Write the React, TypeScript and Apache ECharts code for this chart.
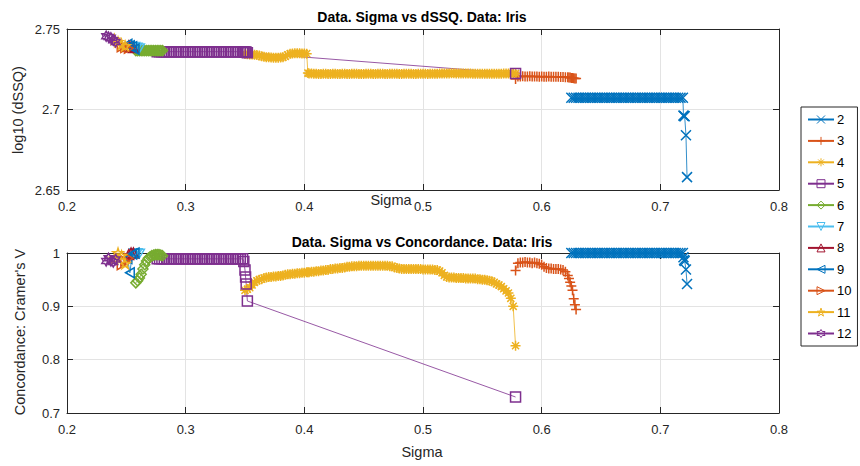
import React, { useEffect, useRef } from "react";
import * as echarts from "echarts";

// ---------- data ----------
const legendNames = ["2", "3", "4", "5", "6", "7", "8", "9", "10", "11", "12"];
const xTicks = { min: 0.2, max: 0.8, interval: 0.1 };
const topTicks = { min: 2.65, max: 2.75, interval: 0.05 };
const botTicks = { min: 0.7, max: 1, interval: 0.1 };

const sigma2 = [
  0.625, 0.627, 0.629, 0.631, 0.633, 0.635, 0.637, 0.639, 0.641, 0.643,
  0.645, 0.647, 0.649, 0.651, 0.653, 0.655, 0.657, 0.659, 0.661, 0.663,
  0.665, 0.667, 0.669, 0.671, 0.673, 0.675, 0.677, 0.679, 0.681, 0.683,
  0.685, 0.687, 0.689, 0.691, 0.693, 0.695, 0.697, 0.699, 0.701, 0.703,
  0.705, 0.707, 0.709, 0.711, 0.713, 0.715, 0.717, 0.719,
  0.7195, 0.72, 0.7205, 0.7216, 0.7225,
];
const dssq2 = [
  2.7073, 2.7073, 2.7073, 2.7073, 2.7073, 2.7073, 2.7073, 2.7073, 2.7073, 2.7073,
  2.7073, 2.7073, 2.7073, 2.7073, 2.7073, 2.7073, 2.7073, 2.7073, 2.7073, 2.7073,
  2.7073, 2.7073, 2.7073, 2.7073, 2.7073, 2.7073, 2.7073, 2.7073, 2.7073, 2.7073,
  2.7073, 2.7073, 2.7073, 2.7073, 2.7073, 2.7073, 2.7073, 2.7073, 2.7073, 2.7073,
  2.7073, 2.7073, 2.7073, 2.7073, 2.7073, 2.7073, 2.7073, 2.7073,
  2.6962, 2.696, 2.6958, 2.684, 2.658,
];
const conc2 = [
  1, 1, 1, 1, 1, 1, 1, 1, 1, 1,
  1, 1, 1, 1, 1, 1, 1, 1, 1, 1,
  1, 1, 1, 1, 1, 1, 1, 1, 1, 1,
  1, 1, 1, 1, 1, 1, 1, 1, 1, 1,
  1, 1, 1, 1, 1, 1, 1, 1,
  0.992, 0.987, 0.985, 0.969, 0.942,
];

const sigma3 = [
  0.578,
  0.58, 0.582, 0.584, 0.586, 0.588, 0.59, 0.592, 0.594, 0.596, 0.598,
  0.6, 0.602, 0.604, 0.606, 0.608, 0.61, 0.612, 0.614, 0.616, 0.618,
  0.62,
  0.622, 0.623, 0.624, 0.625, 0.626, 0.627, 0.628, 0.629,
];
const dssq3 = [
  2.719,
  2.7205, 2.7205, 2.7206, 2.7205, 2.7205, 2.7206, 2.7205, 2.7205, 2.7205, 2.7204,
  2.7205, 2.7204, 2.7204, 2.7205, 2.7204, 2.7204, 2.7203, 2.7203, 2.7202, 2.7202,
  2.7201,
  2.72, 2.7199, 2.7198, 2.7196, 2.7195, 2.7194, 2.7193, 2.7192,
];
const conc3 = [
  0.967,
  0.981, 0.982, 0.982, 0.983, 0.982, 0.982, 0.981, 0.982, 0.981, 0.98,
  0.978, 0.974, 0.972, 0.971, 0.971, 0.97, 0.97, 0.97, 0.969, 0.968,
  0.965,
  0.958, 0.952, 0.945, 0.938, 0.93, 0.914, 0.903, 0.894,
];

const sigma4 = [
  0.35, 0.352, 0.354, 0.356, 0.358, 0.36, 0.362, 0.364, 0.366, 0.368,
  0.37, 0.372, 0.374, 0.376, 0.378, 0.38, 0.382, 0.384, 0.386, 0.388,
  0.39, 0.392, 0.394, 0.396, 0.398, 0.4, 0.402,
  0.403,
  0.404, 0.406, 0.408, 0.41, 0.412, 0.414, 0.416, 0.418, 0.42, 0.422,
  0.424, 0.426, 0.428, 0.43, 0.432, 0.434, 0.436, 0.438, 0.44, 0.442,
  0.444, 0.446, 0.448, 0.45, 0.452, 0.454, 0.456, 0.458, 0.46, 0.462,
  0.464, 0.466, 0.468, 0.47, 0.472, 0.474, 0.476, 0.478, 0.48, 0.482,
  0.484, 0.486, 0.488, 0.49, 0.492, 0.494, 0.496, 0.498, 0.5, 0.502,
  0.504, 0.506, 0.508, 0.51, 0.512, 0.514, 0.516, 0.518, 0.52, 0.522,
  0.524, 0.526, 0.528, 0.53, 0.532, 0.534, 0.536, 0.538, 0.54, 0.542,
  0.544, 0.546, 0.548, 0.55, 0.552, 0.554, 0.556, 0.558, 0.56, 0.562,
  0.564, 0.566, 0.568, 0.57, 0.572, 0.574, 0.576,
  0.578,
];
const dssq4 = [
  2.7344, 2.7343, 2.7342, 2.7341, 2.734, 2.7338, 2.7335, 2.733, 2.7327, 2.7325,
  2.7324, 2.7323, 2.7322, 2.7322, 2.7322, 2.7323, 2.7325, 2.733, 2.734, 2.7346,
  2.7348, 2.7349, 2.7349, 2.7349, 2.7348, 2.7348, 2.7347,
  2.7226,
  2.7224, 2.7223, 2.7222, 2.7222, 2.7221, 2.7221, 2.7222, 2.7222, 2.7221, 2.7221,
  2.7222, 2.7222, 2.7221, 2.7221, 2.7222, 2.7222, 2.7221, 2.7221, 2.7222, 2.7222,
  2.7222, 2.7221, 2.7221, 2.7221, 2.7222, 2.7222, 2.7222, 2.7221, 2.7221, 2.7222,
  2.7222, 2.7222, 2.7221, 2.7221, 2.7222, 2.7222, 2.7222, 2.7222, 2.7221, 2.7221,
  2.7222, 2.7222, 2.7222, 2.7222, 2.7221, 2.7221, 2.7222, 2.7222, 2.7222, 2.7222,
  2.7221, 2.7222, 2.7222, 2.7222, 2.7222, 2.7223, 2.7223, 2.7224, 2.7224, 2.7224,
  2.7225, 2.7225, 2.7224, 2.7224, 2.7224, 2.7224, 2.7223, 2.7223, 2.7223, 2.7222,
  2.7222, 2.7222, 2.7222, 2.7222, 2.7222, 2.7222, 2.7222, 2.7222, 2.7222, 2.7222,
  2.7222, 2.7222, 2.7223, 2.7223, 2.7223, 2.7223, 2.7223,
  2.7224,
];
const conc4 = [
  0.93, 0.932, 0.935, 0.94, 0.945, 0.948, 0.95, 0.951, 0.953, 0.954,
  0.955, 0.955, 0.956, 0.956, 0.957, 0.957, 0.958, 0.959, 0.96, 0.96,
  0.961, 0.961, 0.962, 0.962, 0.963, 0.963, 0.964,
  0.964,
  0.964, 0.965, 0.965, 0.966, 0.966, 0.967, 0.967, 0.968, 0.968, 0.97,
  0.97, 0.971, 0.971, 0.972, 0.972, 0.973, 0.974, 0.974, 0.975, 0.975,
  0.975, 0.976, 0.976, 0.976, 0.976, 0.976, 0.976, 0.976, 0.976, 0.976,
  0.976, 0.976, 0.976, 0.976, 0.975, 0.975, 0.973, 0.972, 0.971, 0.97,
  0.97, 0.97, 0.97, 0.97, 0.97, 0.97, 0.97, 0.97, 0.969, 0.969,
  0.969, 0.969, 0.969, 0.968, 0.968, 0.966, 0.963, 0.958, 0.955, 0.954,
  0.954, 0.954, 0.953, 0.953, 0.953, 0.953, 0.952, 0.952, 0.952, 0.952,
  0.952, 0.951, 0.951, 0.95, 0.95, 0.949, 0.948, 0.947, 0.945, 0.942,
  0.94, 0.937, 0.933, 0.929, 0.925, 0.915, 0.9,
  0.826,
];

const sigma5 = [
  0.276, 0.278, 0.28, 0.282, 0.284, 0.286, 0.288, 0.29, 0.292, 0.294,
  0.296, 0.298, 0.3, 0.302, 0.304, 0.306, 0.308, 0.31, 0.312, 0.314,
  0.316, 0.318, 0.32, 0.322, 0.324, 0.326, 0.328, 0.33, 0.332, 0.334,
  0.336, 0.338, 0.34, 0.342, 0.344, 0.346, 0.348,
  0.349, 0.35, 0.3505, 0.351, 0.352, 0.578,
];
const dssq5 = [
  2.7359, 2.7359, 2.7359, 2.7359, 2.7359, 2.7359, 2.7359, 2.7359, 2.7359, 2.7359,
  2.7359, 2.7359, 2.7359, 2.7359, 2.7359, 2.7359, 2.7359, 2.7359, 2.7359, 2.7359,
  2.7359, 2.7359, 2.7359, 2.7359, 2.7359, 2.7359, 2.7359, 2.7359, 2.7359, 2.7359,
  2.7359, 2.7359, 2.7359, 2.7359, 2.7359, 2.7359, 2.7359,
  2.7358, 2.7357, 2.7356, 2.7355, 2.7353, 2.7224,
];
const conc5 = [
  0.989, 0.989, 0.989, 0.989, 0.989, 0.989, 0.989, 0.989, 0.989, 0.989,
  0.989, 0.989, 0.989, 0.989, 0.989, 0.989, 0.989, 0.989, 0.989, 0.989,
  0.989, 0.989, 0.989, 0.989, 0.989, 0.989, 0.989, 0.989, 0.989, 0.989,
  0.989, 0.989, 0.989, 0.989, 0.989, 0.989, 0.989,
  0.984, 0.968, 0.955, 0.942, 0.91, 0.73,
];

const sigma6 = [0.258, 0.2595, 0.261, 0.2625, 0.264, 0.2655, 0.267, 0.2685, 0.27, 0.2715, 0.273, 0.2745, 0.276, 0.2775, 0.279, 0.2805];
const dssq6 = [2.7366, 2.7366, 2.7366, 2.7366, 2.7366, 2.7366, 2.7366, 2.7366, 2.7366, 2.7366, 2.7366, 2.7366, 2.7366, 2.7366, 2.7366, 2.7366];
const conc6 = [0.944, 0.948, 0.953, 0.96, 0.97, 0.978, 0.985, 0.99, 0.993, 0.995, 0.996, 0.997, 0.997, 0.997, 0.996, 0.995];

const sigma7 = [0.257, 0.259, 0.261];
const dssq7 = [2.739, 2.7385, 2.738];
const conc7 = [1, 1, 0.999];

const sigma8 = [0.252, 0.254, 0.256];
const dssq8 = [2.7395, 2.739, 2.7385];
const conc8 = [0.997, 1, 1];

const sigma9 = [0.251, 0.253, 0.255, 0.257];
const dssq9 = [2.7405, 2.7395, 2.739, 2.7375];
const conc9 = [0.99, 0.963, 0.998, 1];

const sigma10 = [0.246, 0.249, 0.252];
const dssq10 = [2.739, 2.7385, 2.738];
const conc10 = [0.978, 0.985, 0.99];

const sigma11 = [0.24, 0.243, 0.246, 0.249];
const dssq11 = [2.7435, 2.742, 2.7405, 2.7395];
const conc11 = [0.99, 1, 0.995, 0.98];

const sigma12 = [0.233, 0.235, 0.237, 0.239, 0.241];
const dssq12 = [2.7455, 2.745, 2.7445, 2.743, 2.742];
const conc12 = [0.985, 0.99, 0.985, 0.983, 0.988];

// ---------- styling ----------
const FONT = '"Liberation Sans", Arial, Helvetica, sans-serif';
const C = {
  blue: "#0072BD",
  orange: "#D95319",
  yellow: "#EDB120",
  purple: "#7E2F8E",
  green: "#77AC30",
  lblue: "#4DBEEE",
  dred: "#A2142F",
};
const SYM = {
  x: "path://M0,0L10,10M10,0L0,10",
  plus: "path://M5,0L5,10M0,5L10,5",
  star: "path://M5,0L5,10M0,5L10,5M1.46,1.46L8.54,8.54M8.54,1.46L1.46,8.54",
  square: "rect",
  diamond: "diamond",
  tdown: "path://M0,0L10,0L5,8.66Z",
  tup: "triangle",
  tleft: "path://M0,5L8.66,0L8.66,10Z",
  tright: "path://M0,0L8.66,5L0,10Z",
  pent: "path://M50,0L61.8,36.2L100,36.2L69.1,58.8L80.9,95.1L50,72.7L19.1,95.1L30.9,58.8L0,36.2L38.2,36.2Z",
  hex: "path://M50,0L64.4,25L93.3,25L78.9,50L93.3,75L64.4,75L50,100L35.6,75L6.7,75L21.1,50L6.7,25L35.6,25Z",
};

const SERIES = [
  { color: C.blue, symbol: SYM.x, sigma: sigma2, top: dssq2, bot: conc2 },
  { color: C.orange, symbol: SYM.plus, sigma: sigma3, top: dssq3, bot: conc3 },
  { color: C.yellow, symbol: SYM.star, sigma: sigma4, top: dssq4, bot: conc4 },
  { color: C.purple, symbol: SYM.square, sigma: sigma5, top: dssq5, bot: conc5 },
  { color: C.green, symbol: SYM.diamond, sigma: sigma6, top: dssq6, bot: conc6 },
  { color: C.lblue, symbol: SYM.tdown, sigma: sigma7, top: dssq7, bot: conc7 },
  { color: C.dred, symbol: SYM.tup, sigma: sigma8, top: dssq8, bot: conc8 },
  { color: C.blue, symbol: SYM.tleft, sigma: sigma9, top: dssq9, bot: conc9 },
  { color: C.orange, symbol: SYM.tright, sigma: sigma10, top: dssq10, bot: conc10 },
  { color: C.yellow, symbol: SYM.pent, sigma: sigma11, top: dssq11, bot: conc11 },
  { color: C.purple, symbol: SYM.hex, sigma: sigma12, top: dssq12, bot: conc12 },
];

const AX = "#262626";
const GRIDC = "#e3e3e3";

function xAxes(g: number) {
  return [
    {
      gridIndex: g,
      type: "value",
      ...xTicks,
      position: "bottom",
      axisLine: { show: true, onZero: false, lineStyle: { color: AX, width: 1 } },
      axisTick: { show: true, inside: true, length: 6, lineStyle: { color: AX } },
      axisLabel: { color: AX, fontSize: 13, margin: 10, fontFamily: FONT, showMinLabel: true, showMaxLabel: true },
      splitLine: { show: true, lineStyle: { color: GRIDC, width: 1 } },
    },
    {
      gridIndex: g,
      type: "value",
      ...xTicks,
      position: "top",
      axisLine: { show: true, onZero: false, lineStyle: { color: AX, width: 1 } },
      axisTick: { show: true, inside: true, length: 6, lineStyle: { color: AX } },
      axisLabel: { show: false },
      splitLine: { show: false },
    },
  ];
}
function yAxes(g: number, t: { min: number; max: number; interval: number }) {
  return [
    {
      gridIndex: g,
      type: "value",
      ...t,
      position: "left",
      axisLine: { show: true, onZero: false, lineStyle: { color: AX, width: 1 } },
      axisTick: { show: true, inside: true, length: 6, lineStyle: { color: AX } },
      axisLabel: { color: AX, fontSize: 13, margin: 7, fontFamily: FONT, showMinLabel: true, showMaxLabel: true },
      splitLine: { show: true, lineStyle: { color: GRIDC, width: 1 } },
    },
    {
      gridIndex: g,
      type: "value",
      ...t,
      position: "right",
      axisLine: { show: true, onZero: false, lineStyle: { color: AX, width: 1 } },
      axisTick: { show: true, inside: true, length: 6, lineStyle: { color: AX } },
      axisLabel: { show: false },
      splitLine: { show: false },
    },
  ];
}

function buildOption() {
  const series: any[] = [];
  SERIES.forEach((s, i) => {
    const common = {
      type: "line",
      name: legendNames[i],
      symbol: s.symbol,
      symbolSize: 10,
      symbolKeepAspect: true,
      showAllSymbol: true,
      clip: false,
      silent: true,
      lineStyle: { color: s.color, width: 0.8 },
      itemStyle: { color: "rgba(0,0,0,0)", borderColor: s.color, borderWidth: 1.5 },
      emphasis: { disabled: true },
    };
    series.push({
      ...common,
      xAxisIndex: 0,
      yAxisIndex: 0,
      data: s.sigma.map((x, k) => [x, s.top[k]]),
    });
    series.push({
      ...common,
      xAxisIndex: 2,
      yAxisIndex: 2,
      data: s.sigma.map((x, k) => [x, s.bot[k]]),
    });
  });

  const txt = (text: string, x: number, y: number, size: number, bold = false, rot = 0) => ({
    type: "text",
    x,
    y,
    rotation: rot,
    silent: true,
    style: {
      text,
      fontSize: size,
      fontWeight: bold ? "bold" : "normal",
      fontFamily: FONT,
      fill: bold ? "#000" : AX,
      align: "center",
      verticalAlign: "middle",
    },
  });

  return {
    animation: false,
    backgroundColor: "#fff",
    grid: [
      { left: 67, top: 29, width: 712, height: 161, show: false },
      { left: 67, top: 253, width: 712, height: 160, show: false },
    ],
    xAxis: [...xAxes(0), ...xAxes(1)],
    yAxis: [...yAxes(0, topTicks), ...yAxes(1, botTicks)],
    legend: {
      data: legendNames,
      orient: "vertical",
      left: 801,
      top: 107,
      itemWidth: 26,
      itemHeight: 10,
      itemGap: 8.4,
      padding: [6, 6, 6, 6],
      borderColor: AX,
      borderWidth: 1,
      borderRadius: 0,
      backgroundColor: "#fff",
      selectedMode: false,
      itemStyle: { borderWidth: 1 },
      textStyle: { fontSize: 13, color: "#000", fontFamily: FONT, padding: [0, 0, 0, -2] },
    },
    graphic: [
      txt("Data. Sigma vs dSSQ. Data: Iris", 422, 17, 14, true),
      txt("Data. Sigma vs Concordance. Data: Iris", 422, 242, 14, true),
      txt("log10 (dSSQ)", 18, 110, 14.5, false, Math.PI / 2),
      txt("Concordance: Cramer's V", 20, 332, 14.5, false, Math.PI / 2),
      txt("Sigma", 391, 200, 14.5),
      txt("Sigma", 422, 452, 14.5),
    ],
    series,
  };
}

export default function App() {
  const ref = useRef<HTMLDivElement>(null);
  useEffect(() => {
    if (!ref.current) return;
    const chart = echarts.init(ref.current, undefined, { renderer: "svg" });
    chart.setOption(buildOption() as any);
    return () => chart.dispose();
  }, []);
  return (
    <div
      ref={ref}
      style={{ position: "absolute", left: 0, top: 0, width: 860, height: 466, background: "#fff" }}
    />
  );
}
